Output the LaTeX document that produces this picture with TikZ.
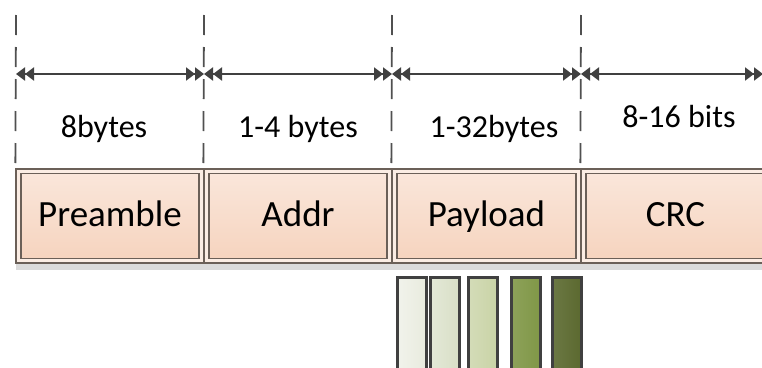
\documentclass[tikz,border=0pt]{standalone}
\usepackage{fontspec}
\setmainfont{Carlito}
\usetikzlibrary{arrows.meta}
\definecolor{ln}{HTML}{404040}
\definecolor{dl}{HTML}{505050}
\definecolor{bx}{HTML}{6B6058}
\definecolor{pkt}{HTML}{FAE6DA}
\definecolor{pkb}{HTML}{F6D4BF}
\definecolor{pko}{HTML}{FBEDE4}
\definecolor{bA}{HTML}{E8EBDE}
\definecolor{bB}{HTML}{D8DFC6}
\definecolor{bC}{HTML}{C9D3A6}
\definecolor{bD}{HTML}{809747}
\definecolor{bE}{HTML}{5B692F}
\tikzset{
  dashline/.style={draw=dl, line width=1.8pt, dash pattern=on 20pt off 12pt, dash phase=0pt},
  dimarrow/.style={draw=ln, line width=2.2pt,
    {Triangle[length=9pt,width=13pt]Triangle[length=9pt,width=13pt]}-{Triangle[length=9pt,width=13pt]Triangle[length=9pt,width=13pt]}},
  lbl/.style={font=\fontsize{32}{36}\selectfont, text=black, inner sep=0pt, anchor=base},
  outerbox/.style={draw=bx, line width=1.3pt, fill=pko, minimum height=94pt, inner sep=0pt},
  innerbox/.style={draw=bx, line width=1.3pt, top color=pkt, bottom color=pkb, minimum height=85pt, inner sep=0pt,
    text height=25pt, text depth=5pt, font=\fontsize{37}{40}\selectfont},
  bar/.style={draw=ln, line width=3pt, minimum width=29pt, minimum height=103pt, inner sep=0pt}
}
\begin{document}
\begin{tikzpicture}[x=1pt,y=-1pt]
\useasboundingbox (0,0) rectangle (762,367);
\clip (0,0) rectangle (762,367);
% shadow
\fill[black!14] (16,263) rectangle (770,270);
% cells
\node[outerbox, minimum width=188pt] (o1) at (110,216) {};
\node[innerbox, minimum width=178pt] (c1) at (o1) {Preamble};
\node[outerbox, minimum width=188pt] (o2) at (298,216) {};
\node[innerbox, minimum width=178pt] (c2) at (o2) {Addr};
\node[outerbox, minimum width=189pt] (o3) at (486.5,216) {};
\node[innerbox, minimum width=179pt] (c3) at (o3) {Payload};
\node[outerbox, minimum width=189pt] (o4) at (675.5,216) {};
\node[innerbox, minimum width=179pt] (c4) at (o4) {CRC};
% dashed guides
\coordinate (t1) at (16,15);
\coordinate (t2) at (204,15);
\coordinate (t3) at (392,15);
\coordinate (t4) at (581,15);
\draw[dashline] (t1) -- (o1.north west);
\draw[dashline] (t2) -- (o2.north west);
\draw[dashline] (t3) -- (o3.north west);
\draw[dashline] (t4) -- (o4.north west);
% dimension arrows
\coordinate (a1) at (16,74);
\coordinate (a2) at (204,74);
\coordinate (a3) at (392,74);
\coordinate (a4) at (581,74);
\coordinate (a5) at (763,74);
\draw[dimarrow] (a1) -- (a2);
\draw[dimarrow] (a2) -- (a3);
\draw[dimarrow] (a3) -- (a4);
\draw[dimarrow] (a4) -- (a5);
% labels
\node[lbl] (l1) at (104,137) {8bytes};
\node[lbl] (l2) at (298,137) {1-4 bytes};
\node[lbl] (l3) at (494,137) {1-32bytes};
\node[lbl] (l4) at (679,127) {8-16 bits};
% bars
\node[bar, left color=bA!60!white, right color=bA] (b1) at (412,328.5) {};
\node[bar, left color=bB!70!white, right color=bB] (b2) at (445,328.5) {};
\node[bar, left color=bC!80!white, right color=bC] (b3) at (483,328.5) {};
\node[bar, left color=bD!90!white, right color=bD] (b4) at (526,328.5) {};
\node[bar, left color=bE!90!white, right color=bE] (b5) at (567,328.5) {};
\end{tikzpicture}
\end{document}
